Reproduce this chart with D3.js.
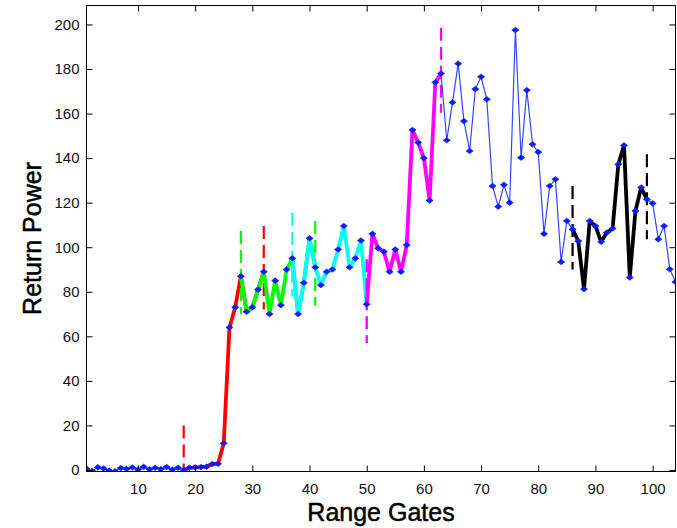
<!DOCTYPE html>
<html>
<head>
<meta charset="utf-8">
<script src="https://cdn.jsdelivr.net/npm/d3@7"></script>
<style>
  html, body { margin: 0; padding: 0; background: #fff; }
  svg { display: block; }
  text { font-family: "Liberation Sans", Arial, sans-serif; }
</style>
</head>
<body>
<script>
// Return power per range gate (gates numbered from 1)
const power = [
  0.6, -0.4, 1.2, 0.7, -0.3, -0.6, 0.9, 0.5, 1.1, 0.2,
  1.4, 0.3, 1.0, 0.4, 1.3, 0.2, 1.0, 0.0, 1.0, 1.2,
  1.3, 1.5, 2.7, 2.8, 12, 64, 73, 87, 71, 73,
  81, 89, 70, 85, 74, 90, 95, 70, 84, 104,
  91, 83, 89, 90, 99, 109.5, 91, 95, 103, 74.4,
  106, 99.5, 98, 89, 99, 89, 101, 152.6, 147, 140,
  121, 174, 178, 148, 165, 182.4, 156.6, 143.2, 171, 176.5,
  166.4, 127.5, 118.2, 128, 120, 197.5, 140.2, 170.5, 146.2, 142.7,
  106, 127.5, 130.5, 93.4, 111.8, 108, 102.8, 81.2, 111.8, 109.5,
  102.4, 106.6, 108.4, 137.2, 145.7, 86.4, 116.3, 126.8, 121.5, 119.7,
  103.6, 109.5, 90.1, 84.4
];
const gates = power.map((_, i) => i + 1);

// Highlighted windows: first gate, last gate, colour
const segStart = [18, 28, 37, 50, 86];
const segEnd   = [32, 41, 50, 63, 99];
const segColor = ["#ff0000", "#00ff00", "#00ffff", "#ff00ff", "#000000"];

// Dashed boundary markers for each window: [low, high] at start and at end
const startLow  = [0, 70, 78, 57, 90];
const startHigh = [20, 107.3, 115.5, 94.6, 127.5];
const endLow    = [72, 73.7, 57, 160.4, 103.6];
const endHigh   = [109.5, 111.8, 94.6, 198.5, 141.7];

const xTicks = [10, 20, 30, 40, 50, 60, 70, 80, 90, 100];
const yTicks = [0, 20, 40, 60, 80, 100, 120, 140, 160, 180, 200];

const W = 677, H = 528;
const pLeft = 86.5, pRight = 675.5, pTop = 5.5, pBottom = 471.5;

const svg = d3.select("body").append("svg").attr("width", W).attr("height", H);

const x = d3.scaleLinear().domain([1, 104]).range([pLeft, pRight]);
const y = d3.scaleLinear().domain([0, 208.5]).range([pBottom - 1.5, pTop]);

svg.append("defs").append("clipPath").attr("id", "plotclip")
  .append("rect").attr("x", pLeft).attr("y", pTop)
  .attr("width", pRight - pLeft).attr("height", pBottom - pTop);

const plot = svg.append("g").attr("clip-path", "url(#plotclip)");

const line = d3.line().x(d => x(d[0])).y(d => y(d[1]));
const pts = gates.map((g, i) => [g, power[i]]);

// Full trace, thin blue
plot.append("path")
  .attr("d", line(pts))
  .attr("fill", "none")
  .attr("stroke", "#3344ff")
  .attr("stroke-width", 1.2);

// Highlighted windows with their dashed boundaries
segStart.forEach((s, k) => {
  const e = segEnd[k];
  const segPts = pts.filter(p => p[0] >= s && p[0] <= e);
  plot.append("path")
    .attr("d", line(segPts))
    .attr("fill", "none")
    .attr("stroke", segColor[k])
    .attr("stroke-width", 3.8)
    .attr("stroke-linejoin", "round");
  [[s, startLow[k], startHigh[k]], [e, endLow[k], endHigh[k]]].forEach(([g, lo, hi]) => {
    plot.append("line")
      .attr("x1", x(g)).attr("x2", x(g))
      .attr("y1", y(hi)).attr("y2", y(lo))
      .attr("stroke", segColor[k])
      .attr("stroke-width", 2.2)
      .attr("stroke-dasharray", "13,6");
  });
});

// Sample markers
const marker = "M-3.6,0L0,-2.8L3.6,0L0,2.8Z";
plot.append("g").selectAll("path")
  .data(pts)
  .join("path")
  .attr("transform", d => `translate(${x(d[0])},${y(d[1])})`)
  .attr("d", marker)
  .attr("fill", "#0a1cff")
  .attr("stroke", "#0a1cff")
  .attr("stroke-width", 0.6);

// Axes (ticks pointing inward on all four sides)
const tickLen = 6;
const xAxisB = d3.axisBottom(x).tickValues(xTicks).tickSizeInner(-tickLen).tickSizeOuter(0).tickPadding(12);
const xAxisT = d3.axisTop(x).tickValues(xTicks).tickSizeInner(-tickLen).tickSizeOuter(0).tickFormat("");
const yAxisL = d3.axisLeft(y).tickValues(yTicks).tickSizeInner(-tickLen).tickSizeOuter(0).tickPadding(7);
const yAxisR = d3.axisRight(y).tickValues(yTicks).tickSizeInner(-tickLen).tickSizeOuter(0).tickFormat("");

function style(g) {
  g.select(".domain").remove();
  g.selectAll("line").attr("stroke", "#000");
  g.selectAll("text").attr("fill", "#111").attr("font-size", 15);
}
svg.append("g").attr("transform", `translate(0,${pBottom})`).call(xAxisB).call(style);
svg.append("g").attr("transform", `translate(0,${pTop})`).call(xAxisT).call(style);
svg.append("g").attr("transform", `translate(${pLeft},0)`).call(yAxisL).call(style);
svg.append("g").attr("transform", `translate(${pRight},0)`).call(yAxisR).call(style);

svg.append("rect")
  .attr("x", pLeft).attr("y", pTop)
  .attr("width", pRight - pLeft).attr("height", pBottom - pTop)
  .attr("fill", "none").attr("stroke", "#000").attr("stroke-width", 1);

// Axis titles
svg.append("text")
  .attr("x", 381).attr("y", 521)
  .attr("text-anchor", "middle")
  .attr("font-size", 25)
  .attr("stroke", "#000").attr("stroke-width", 0.5)
  .text("Range Gates");

svg.append("text")
  .attr("transform", `translate(41,${(pTop + pBottom) / 2}) rotate(-90)`)
  .attr("text-anchor", "middle")
  .attr("font-size", 25)
  .attr("stroke", "#000").attr("stroke-width", 0.5)
  .text("Return Power");
</script>
</body>
</html>
